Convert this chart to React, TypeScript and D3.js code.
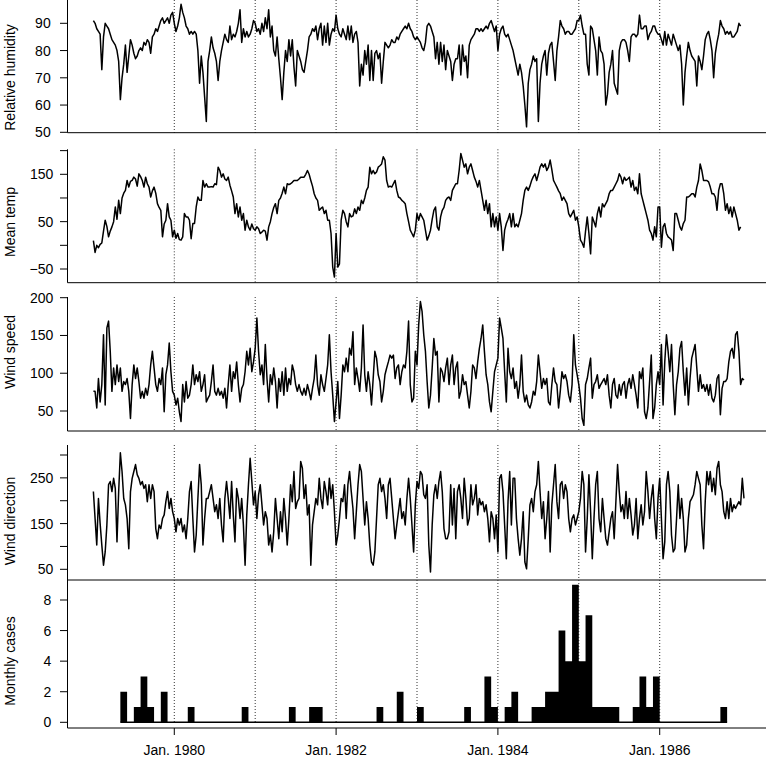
import React, { useEffect, useRef } from 'react';
import * as d3 from 'd3';

// weekly-ish readings: four per month, Jan 1979 onwards
const START_YEAR = 1979;
const STEPS_PER_YEAR = 48;

const humidity = [
  91, 90, 88, 87, 86, 73, 85, 90, 89, 88, 86, 84, 83, 82, 80, 76, 62, 70, 75, 82, 72, 78, 84, 82, 79, 77, 78, 80, 81, 80, 83, 82, 84, 83, 79, 85, 86, 88, 87, 89, 91, 92, 90, 91, 92, 90, 93, 94,
  90, 87, 89, 92, 97, 94, 92, 89, 88, 86, 87, 86, 87, 86, 80, 68, 78, 72, 63, 54, 76, 80, 85, 81, 79, 76, 69, 76, 80, 83, 86, 84, 83, 89, 84, 86, 85, 87, 90, 95, 83, 88, 85, 87, 85, 86, 88, 91,
  90, 87, 88, 86, 90, 87, 92, 88, 95, 85, 89, 80, 78, 85, 77, 70, 62, 72, 80, 76, 84, 78, 84, 74, 67, 80, 78, 76, 73, 72, 76, 80, 85, 86, 88, 87, 89, 84, 88, 90, 82, 89, 83, 90, 82, 86, 88, 87,
  93, 88, 86, 85, 88, 86, 84, 89, 84, 89, 83, 86, 87, 83, 67, 75, 71, 80, 75, 82, 69, 80, 69, 79, 80, 77, 79, 68, 76, 83, 82, 81, 82, 84, 83, 83, 85, 84, 86, 87, 88, 89, 88, 90, 88, 87, 85, 84,
  85, 84, 83, 81, 80, 83, 89, 90, 89, 87, 85, 77, 83, 75, 83, 76, 82, 73, 80, 78, 76, 69, 75, 77, 77, 82, 71, 82, 76, 78, 70, 82, 84, 85, 86, 88, 88, 87, 88, 87, 88, 89, 88, 90, 91, 89, 87, 89,
  80, 86, 88, 89, 86, 85, 86, 84, 82, 80, 77, 74, 71, 75, 72, 67, 60, 52, 68, 73, 75, 78, 76, 77, 54, 68, 75, 78, 80, 71, 79, 82, 83, 76, 69, 80, 85, 91, 89, 88, 86, 87, 87, 86, 86, 87, 88, 91,
  91, 93, 89, 86, 86, 75, 71, 89, 88, 84, 80, 71, 85, 80, 79, 75, 60, 64, 72, 75, 80, 68, 66, 64, 80, 83, 84, 84, 83, 80, 76, 85, 86, 86, 85, 86, 93, 88, 88, 89, 89, 84, 86, 87, 89, 89, 87, 86,
  86, 84, 82, 87, 82, 86, 84, 82, 86, 84, 82, 80, 82, 75, 60, 72, 78, 83, 80, 78, 77, 76, 67, 78, 76, 73, 78, 84, 86, 87, 84, 80, 70, 79, 83, 86, 91, 89, 88, 86, 87, 86, 87, 85, 85, 86, 87, 90,
  89,
];

const meanTemp = [
  10, -15, 0, -5, 2, 5, 30, 53, 40, 18, 30, 39, 50, 81, 55, 95, 67, 100, 110, 116, 137, 123, 135, 137, 144, 140, 125, 151, 145, 137, 123, 144, 130, 123, 102, 115, 123, 110, 88, 80, 74, 18, 45, 53, 88, 60, 53, 18,
  32, 15, 25, 12, 11, 18, 67, 60, 60, 53, 14, 46, 46, 81, 102, 95, 95, 137, 123, 130, 123, 123, 124, 123, 130, 128, 165, 158, 144, 151, 140, 137, 144, 127, 115, 102, 67, 88, 60, 81, 53, 67, 32, 53, 39, 32, 45, 35,
  32, 39, 35, 25, 28, 32, 30, 11, 39, 50, 67, 80, 88, 67, 95, 100, 110, 123, 109, 130, 128, 130, 133, 137, 137, 137, 140, 144, 144, 144, 150, 158, 150, 137, 125, 109, 100, 95, 74, 78, 81, 67, 74, 53, 53, 25, -46, -67,
  25, -46, -39, 53, 74, 67, 50, 39, 67, 60, 62, 77, 67, 81, 74, 95, 88, 100, 116, 123, 165, 151, 158, 151, 155, 165, 168, 172, 187, 180, 137, 123, 125, 123, 130, 137, 116, 102, 100, 95, 92, 88, 67, 50, 32, 25, 18, 32,
  67, 53, 67, 60, 53, 32, 11, 20, 32, 55, 74, 81, 39, 32, 60, 74, 80, 95, 100, 102, 95, 116, 123, 130, 130, 158, 194, 180, 165, 172, 151, 165, 172, 158, 144, 135, 123, 137, 116, 95, 74, 95, 67, 88, 39, 67, 39, 60,
  32, 67, 39, -11, 32, 46, 55, 67, 39, 67, 39, 45, 39, 53, 67, 95, 116, 123, 116, 125, 137, 145, 151, 137, 150, 165, 172, 165, 172, 158, 165, 180, 160, 137, 130, 123, 115, 109, 95, 102, 95, 88, 67, 60, 67, 74, 53, 60,
  39, 11, 5, -4, 30, 60, 25, -18, 60, 50, 39, 67, 81, 60, 88, 81, 88, 95, 109, 116, 116, 123, 130, 137, 151, 144, 130, 144, 137, 140, 144, 123, 137, 116, 123, 109, 151, 109, 95, 81, 67, 53, 32, 25, 11, 39, 18, 81,
  81, -4, 39, 46, 25, 18, 15, 11, -11, 67, 67, 53, 39, 32, 46, 53, 102, 102, 105, 109, 109, 102, 123, 137, 172, 158, 137, 137, 137, 134, 123, 109, 109, 102, 74, 116, 130, 130, 109, 74, 88, 67, 81, 60, 81, 67, 53, 32,
  39,
];

const windSpeed = [
  76, 76, 54, 93, 62, 85, 151, 58, 160, 169, 129, 76, 107, 85, 111, 89, 107, 76, 89, 85, 93, 76, 40, 85, 111, 93, 107, 89, 67, 76, 67, 80, 71, 85, 111, 129, 107, 85, 76, 93, 85, 107, 49, 98, 111, 140, 102, 76,
  71, 58, 67, 49, 36, 85, 62, 89, 67, 71, 85, 111, 85, 98, 89, 102, 76, 85, 98, 62, 67, 71, 89, 111, 76, 71, 80, 71, 76, 67, 80, 54, 85, 111, 76, 102, 93, 115, 85, 62, 80, 85, 102, 129, 111, 133, 102, 115,
  133, 173, 129, 98, 111, 85, 138, 93, 62, 98, 85, 107, 89, 54, 93, 76, 102, 71, 107, 76, 93, 85, 111, 102, 85, 76, 85, 76, 71, 80, 71, 85, 76, 65, 80, 93, 124, 85, 71, 98, 85, 76, 93, 111, 151, 102, 71, 36,
  62, 89, 40, 71, 111, 102, 120, 102, 133, 124, 155, 85, 107, 93, 76, 107, 164, 98, 76, 102, 85, 58, 93, 129, 120, 98, 89, 62, 76, 98, 107, 115, 124, 120, 124, 93, 107, 111, 85, 102, 111, 107, 129, 169, 85, 62, 67, 129,
  111, 164, 195, 182, 151, 129, 89, 54, 71, 107, 146, 124, 129, 62, 107, 102, 89, 107, 120, 85, 111, 124, 85, 107, 115, 67, 76, 98, 85, 89, 71, 54, 76, 111, 107, 93, 115, 133, 146, 164, 129, 98, 85, 62, 49, 76, 102, 111,
  120, 173, 160, 146, 102, 62, 133, 102, 93, 107, 80, 89, 67, 85, 124, 76, 62, 71, 58, 54, 62, 76, 71, 89, 124, 102, 80, 93, 85, 93, 62, 58, 85, 107, 89, 85, 54, 76, 102, 93, 98, 89, 71, 62, 85, 151, 111, 98,
  85, 67, 40, 31, 85, 93, 107, 120, 67, 85, 89, 98, 80, 85, 89, 93, 85, 98, 71, 54, 85, 93, 71, 67, 85, 71, 85, 89, 67, 85, 93, 80, 98, 85, 71, 54, 102, 93, 107, 49, 40, 54, 89, 124, 40, 54, 85, 102,
  85, 138, 58, 115, 151, 129, 102, 138, 85, 45, 85, 102, 133, 142, 102, 71, 107, 58, 93, 120, 129, 138, 107, 76, 98, 80, 85, 76, 85, 71, 85, 67, 62, 71, 93, 98, 45, 80, 89, 89, 93, 115, 129, 133, 120, 151, 155, 129,
  85, 93, 91,
];

const windDirection = [
  220, 161, 103, 205, 150, 103, 59, 88, 147, 235, 242, 220, 249, 227, 110, 220, 305, 264, 205, 191, 161, 95, 220, 249, 264, 279, 257, 249, 235, 242, 227, 235, 198, 235, 205, 235, 220, 139, 117, 147, 139, 161, 169, 198, 220, 183, 205, 176,
  161, 132, 161, 147, 161, 132, 147, 117, 161, 220, 242, 161, 88, 125, 205, 279, 235, 103, 161, 205, 205, 220, 235, 205, 176, 191, 161, 205, 147, 110, 205, 242, 205, 161, 242, 169, 110, 227, 205, 161, 205, 147, 59, 169, 235, 293, 242, 191,
  220, 161, 213, 235, 191, 147, 176, 161, 103, 125, 88, 132, 205, 161, 117, 176, 132, 205, 161, 103, 161, 235, 198, 264, 183, 198, 205, 286, 271, 205, 235, 169, 191, 59, 147, 176, 205, 191, 249, 205, 183, 242, 220, 191, 249, 205, 235, 176,
  103, 125, 161, 205, 198, 235, 161, 235, 264, 220, 183, 117, 176, 235, 279, 264, 205, 147, 198, 161, 103, 66, 59, 88, 161, 235, 249, 220, 235, 205, 161, 235, 249, 205, 161, 117, 147, 176, 205, 161, 176, 147, 205, 249, 205, 147, 88, 191,
  242, 227, 264, 257, 213, 205, 235, 103, 44, 147, 213, 235, 205, 242, 264, 220, 139, 117, 117, 132, 235, 147, 227, 117, 220, 235, 205, 161, 249, 205, 147, 161, 235, 191, 205, 235, 169, 205, 191, 198, 176, 191, 161, 110, 176, 161, 117, 169,
  88, 249, 257, 220, 147, 73, 198, 264, 147, 249, 249, 161, 117, 81, 117, 176, 66, 51, 117, 191, 205, 176, 220, 235, 286, 220, 161, 198, 117, 161, 220, 88, 191, 235, 279, 198, 161, 235, 242, 205, 235, 220, 161, 132, 161, 169, 147, 161,
  176, 205, 264, 235, 88, 161, 257, 176, 73, 161, 235, 264, 161, 132, 205, 161, 117, 103, 132, 161, 176, 117, 198, 279, 220, 176, 191, 161, 220, 161, 205, 169, 125, 147, 205, 117, 161, 191, 147, 176, 264, 220, 161, 205, 235, 161, 117, 205,
  249, 161, 73, 110, 235, 264, 220, 125, 88, 95, 161, 235, 161, 205, 161, 88, 103, 161, 198, 205, 213, 235, 264, 249, 235, 147, 95, 198, 264, 235, 264, 220, 249, 213, 271, 286, 235, 220, 176, 161, 198, 161, 205, 176, 191, 183, 191, 198,
  191, 249, 205,
];

// monthly counts, Jan 1979 .. Dec 1986
const monthlyCases = [
  0, 0, 0, 0, 2, 0, 1, 3, 1, 0, 2, 0,
  0, 0, 1, 0, 0, 0, 0, 0, 0, 0, 1, 0,
  0, 0, 0, 0, 0, 1, 0, 0, 1, 1, 0, 0,
  0, 0, 0, 0, 0, 0, 1, 0, 0, 2, 0, 0,
  1, 0, 0, 0, 0, 0, 0, 1, 0, 0, 3, 1,
  0, 1, 2, 0, 0, 1, 1, 2, 2, 6, 4, 9,
  4, 7, 1, 1, 1, 1, 0, 0, 1, 3, 1, 3,
  0, 0, 0, 0, 0, 0, 0, 0, 0, 1, 0, 0,
];

const dottedYears = [1980, 1981, 1982, 1983, 1984, 1985, 1986];
const axisYears = [1980, 1982, 1984, 1986];

const humidityTicks = [50, 60, 70, 80, 90];
const tempTicks = [-50, 0, 50, 100, 150, 200];
const tempLabels = [-50, 50, 150];
const speedTicks = [50, 100, 150, 200];
const directionTicks = [50, 100, 150, 200, 250, 300];
const directionLabels = [50, 150, 250];
const caseTicks = [0, 2, 4, 6, 8];

const FONT = "'Liberation Sans', Arial, Helvetica, sans-serif";

const App = () => {
  const svgRef = useRef(null);

  useEffect(() => {
    const svg = d3.select(svgRef.current);
    svg.selectAll('*').remove();

    const width = 766;
    const height = 759;
    const left = 67.5;
    const right = 766;

    svg.append('rect').attr('width', width).attr('height', height).attr('fill', 'white');

    const x = d3.scaleLinear().domain([1978.68, 1987.32]).range([67.5, 766.5]);

    const fmt = (v) => (v < 0 ? '\u2212' + Math.abs(v) : String(v));

    const panels = [
      { title: 'Relative humidity', values: humidity, top: -1, bottom: 132.7, domain: [50, 90], range: [132.3, 23.3], ticks: humidityTicks, labels: humidityTicks, labelX: 50.7, titleY: 77.5 },
      { title: 'Mean temp', values: meanTemp, top: 149.3, bottom: 282.7, domain: [-50, 150], range: [269, 174.3], ticks: tempTicks, labels: tempLabels, labelX: 53.3, titleY: 222 },
      { title: 'Wind speed', values: windSpeed, top: 297, bottom: 431, domain: [50, 200], range: [411, 297.7], ticks: speedTicks, labels: speedTicks, labelX: 53.3, titleY: 352 },
      { title: 'Wind direction', values: windDirection, top: 445, bottom: 580, domain: [50, 300], range: [569.3, 455], ticks: directionTicks, labels: directionLabels, labelX: 53.3, titleY: 521 },
    ];

    const drawFrame = (g, p, y, dotBottom) => {
      // dotted year markers
      g.selectAll('line.year')
        .data(dottedYears)
        .enter()
        .append('line')
        .attr('x1', d => x(d)).attr('x2', d => x(d))
        .attr('y1', Math.max(p.top, 0)).attr('y2', dotBottom)
        .attr('stroke', '#333')
        .attr('stroke-width', 1)
        .attr('stroke-dasharray', '1,2');

      // L-shaped frame
      g.append('line').attr('x1', left).attr('x2', left).attr('y1', p.top).attr('y2', p.bottom)
        .attr('stroke', 'black').attr('stroke-width', 1);
      g.append('line').attr('x1', left).attr('x2', right).attr('y1', p.bottom).attr('y2', p.bottom)
        .attr('stroke', 'black').attr('stroke-width', 1);

      g.selectAll('line.tick')
        .data(p.ticks)
        .enter()
        .append('line')
        .attr('x1', 60).attr('x2', left)
        .attr('y1', d => y(d)).attr('y2', d => y(d))
        .attr('stroke', 'black').attr('stroke-width', 1);

      g.selectAll('text.tick')
        .data(p.labels)
        .enter()
        .append('text')
        .attr('x', p.labelX)
        .attr('y', d => y(d) + 5)
        .attr('text-anchor', 'end')
        .style('font-family', FONT)
        .style('font-size', '14px')
        .text(d => fmt(d));

      g.append('text')
        .attr('transform', `translate(15,${p.titleY}) rotate(-90)`)
        .attr('text-anchor', 'middle')
        .style('font-family', FONT)
        .style('font-size', '14px')
        .text(p.title);
    };

    panels.forEach(p => {
      const g = svg.append('g');
      const y = d3.scaleLinear().domain(p.domain).range(p.range);
      drawFrame(g, p, y, p.bottom);

      const line = d3.line()
        .x((d, i) => x(START_YEAR + i / STEPS_PER_YEAR))
        .y(d => y(d));

      g.append('path')
        .datum(p.values)
        .attr('d', line)
        .attr('fill', 'none')
        .attr('stroke', 'black')
        .attr('stroke-width', 1.5)
        .attr('stroke-linejoin', 'round');
    });

    // Monthly cases panel
    const casePanel = { title: 'Monthly cases', top: 580, bottom: 728, ticks: caseTicks, labels: caseTicks, labelX: 51.2, titleY: 661 };
    const yc = d3.scaleLinear().domain([0, 8]).range([722.3, 600]);
    const gc = svg.append('g');
    drawFrame(gc, casePanel, yc, yc(0));

    const nonZero = monthlyCases.map((v, i) => (v > 0 ? i : -1)).filter(i => i >= 0);
    const first = d3.min(nonZero);
    const last = d3.max(nonZero);
    // step outline from the first to the last month with cases, closed at the end month
    const steps = d3.range(first, last + 2).map(m => ({ m, v: m <= last ? monthlyCases[m] : 0 }));

    const area = d3.area()
      .x(d => x(START_YEAR + d.m / 12))
      .y0(yc(0))
      .y1(d => yc(d.v))
      .curve(d3.curveStepAfter);

    gc.append('path')
      .datum(steps)
      .attr('d', area)
      .attr('fill', 'black');

    gc.append('line')
      .attr('x1', x(START_YEAR + first / 12))
      .attr('x2', x(START_YEAR + (last + 1) / 12))
      .attr('y1', yc(0)).attr('y2', yc(0))
      .attr('stroke', 'black').attr('stroke-width', 1.5);

    // time axis
    gc.selectAll('line.xtick')
      .data(axisYears)
      .enter()
      .append('line')
      .attr('x1', d => x(d)).attr('x2', d => x(d))
      .attr('y1', 728).attr('y2', 735)
      .attr('stroke', 'black').attr('stroke-width', 1);

    gc.selectAll('text.xtick')
      .data(axisYears)
      .enter()
      .append('text')
      .attr('x', d => x(d))
      .attr('y', 755)
      .attr('text-anchor', 'middle')
      .style('font-family', FONT)
      .style('font-size', '14px')
      .text(d => `Jan. ${d}`);
  }, []);

  return (
    <svg
      ref={svgRef}
      width={766}
      height={759}
      style={{ position: 'absolute', left: 0, top: 0, display: 'block' }}
    ></svg>
  );
};

export default App;
